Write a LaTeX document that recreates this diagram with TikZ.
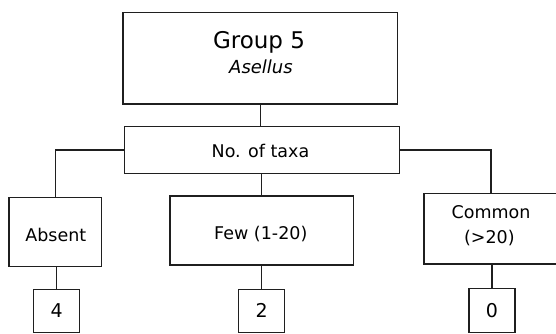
\documentclass[tikz,border=0pt]{standalone}
\usepackage{fontspec}
\setmainfont{DejaVu Sans}
\begin{document}
\begin{tikzpicture}[x=1pt,y=-1pt,
  box/.style={draw=black!88, line width=1.4pt, rectangle, inner sep=0pt},
  conn/.style={draw=black!88, line width=1.4pt},
  txt/.style={anchor=base, inner sep=0pt, font=\fontsize{17.5}{20}\selectfont},
  numtxt/.style={anchor=base, inner sep=0pt, font=\fontsize{19}{22}\selectfont}]
\useasboundingbox (0,0) rectangle (556,334);
% boxes
\node[box, minimum width=274.5pt, minimum height=91.3pt] (top) at (260.3,58.3) {};
\node[box, minimum width=275pt, minimum height=46.6pt] (taxa) at (261.7,150) {};
\node[box, minimum width=92.7pt, minimum height=69.4pt] (absent) at (55.3,232) {};
\node[box, minimum width=183.5pt, minimum height=69pt] (few) at (261.7,230.5) {};
\node[box, minimum width=134pt, minimum height=70.7pt] (common) at (491,228.6) {};
\node[box, minimum width=46pt, minimum height=43pt] (n4) at (56.7,311) {};
\node[box, minimum width=46.5pt, minimum height=43pt] (n2) at (261.5,311) {};
\node[box, minimum width=46pt, minimum height=44pt] (n0) at (492,310.5) {};
% texts
\node[anchor=base, inner sep=0pt, font=\fontsize{23}{26}\selectfont] (tg) at (259,48.3) {Group 5};
\node[anchor=base, inner sep=0pt, font=\fontsize{18}{21}\selectfont\itshape] (ta) at (261,73.3) {Asellus};
\node[txt] (ttaxa) at (260.5,157.3) {No. of taxa};
\node[txt] (tabsent) at (55.8,241.7) {Absent};
\node[txt] (tfew) at (260.8,239.3) {Few (1-20)};
\node[txt] (tcommon) at (491,218.7) {Common};
\node[txt] (tgt) at (489.3,243.3) {(>20)};
\node[numtxt] (t4) at (56.7,317.4) {4};
\node[numtxt] (t2) at (261.7,317.4) {2};
\node[numtxt] (t0) at (491.8,317.4) {0};
% connectors
\draw[conn] (top.south) -- (top.south |- taxa.north);
\draw[conn] (taxa.west) -| (absent.north);
\draw[conn] (taxa.east) -| (common.north);
\draw[conn] (taxa.south -| few.north) -- (few.north);
\draw[conn] (absent.south -| n4.north) -- (n4.north);
\draw[conn] (few.south -| n2.north) -- (n2.north);
\draw[conn] (common.south -| n0.north) -- (n0.north);
\end{tikzpicture}
\end{document}
